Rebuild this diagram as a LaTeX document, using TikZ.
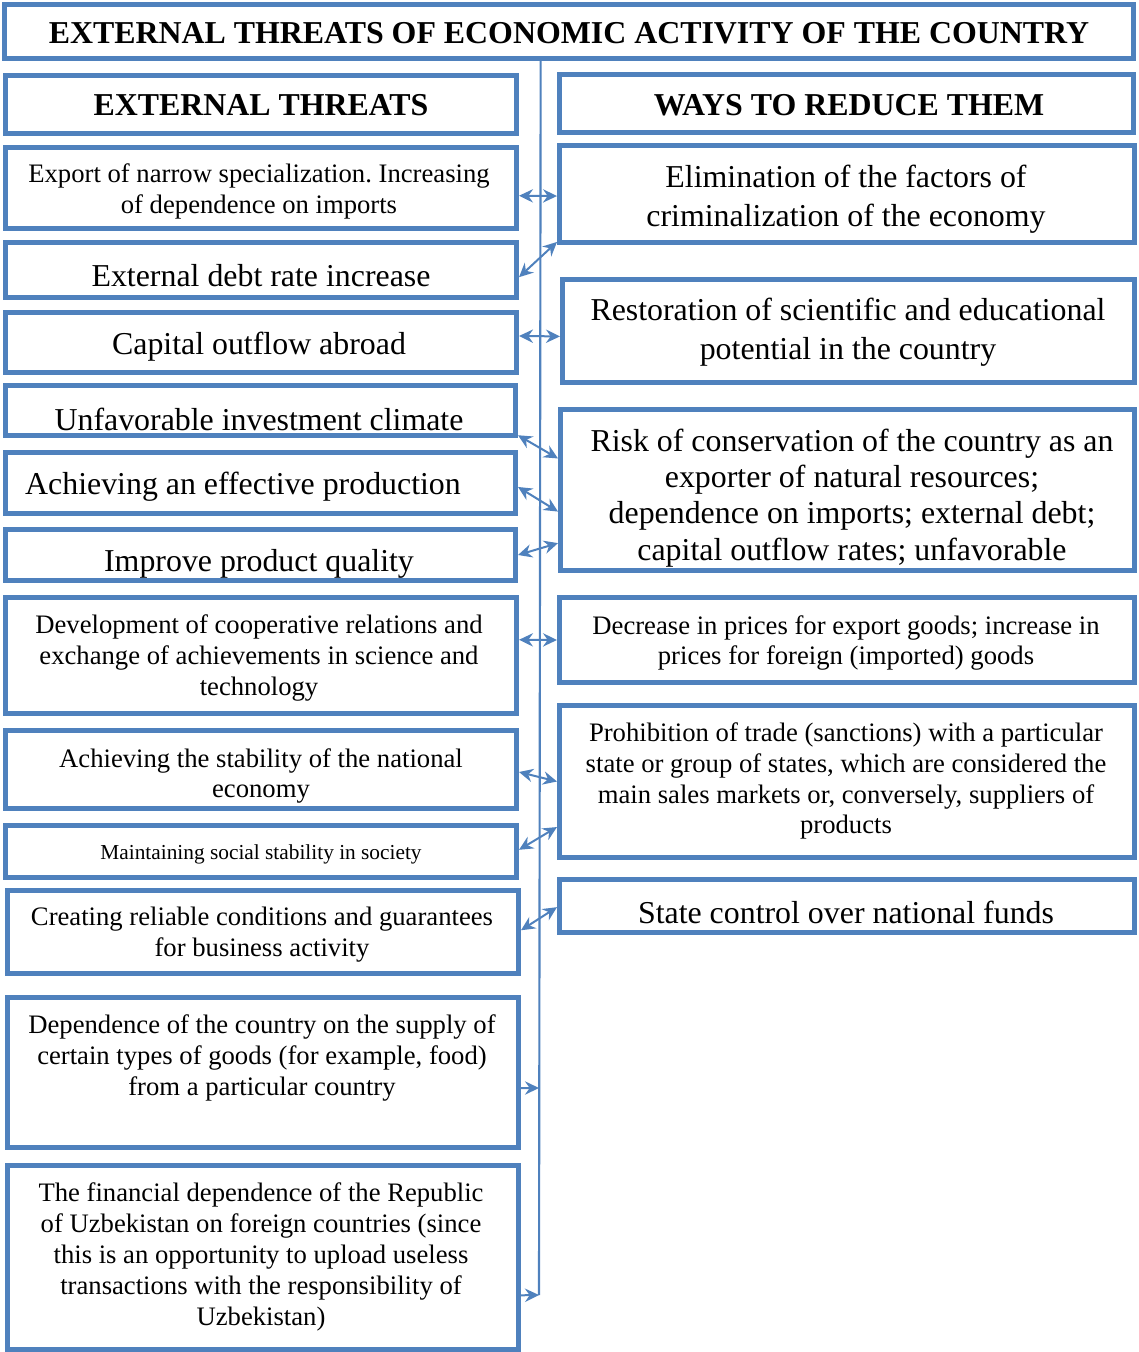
\documentclass[tikz,border=0pt]{standalone}
\usepackage{fontspec}
\setmainfont{Liberation Serif}
\usepackage{tikz}
\usetikzlibrary{calc, fit, arrows.meta}
\frenchspacing

\definecolor{boxblue}{HTML}{4F81BD}

\tikzset{
  box/.style={draw=boxblue, line width=3.75pt, inner sep=0pt},
  largetext/.style={font=\fontsize{23.9pt}{29.3pt}\selectfont, align=center, inner sep=0pt, yshift=-2.2pt},
  midtext/.style={font=\fontsize{20pt}{23.2pt}\selectfont, align=center, inner sep=0pt, yshift=-1.5pt},
  smalltext/.style={font=\fontsize{16pt}{19pt}\selectfont, align=center, inner sep=0pt, yshift=-1.5pt},
  headtext/.style={font=\fontsize{23.9pt}{29.3pt}\selectfont\bfseries, align=center, inner sep=0pt},
  link/.style={draw=boxblue, line width=1.5pt,
    {Stealth[length=10.5pt,width=10pt,inset=3.5pt]}-{Stealth[length=10.5pt,width=10pt,inset=3.5pt]}},
  feed/.style={draw=boxblue, line width=1.5pt, -{Stealth[length=10.5pt,width=10pt,inset=3.5pt]}},
  spine/.style={draw=boxblue, line width=1.6pt}
}

\begin{document}
\begin{tikzpicture}[x=0.75pt, y=-0.75pt]
\useasboundingbox (0,0) rectangle (1138,1352);
					%%
% frames
\foreach \n/\xa/\ya/\xb/\yb in {
  title/4.5/4.5/1133.5/58.5,
  hl/5.5/75.5/516.5/133.5, hr/559.5/74.5/1133.5/132.5,
  l1/5.5/147.5/516.5/228.5, l2/5.5/242.5/516.5/297.5,
  l3/5.5/312.5/516.5/372.5, l4/5.5/385.5/515.5/435.5,
  l5/5.5/452.5/515.5/513.5, l6/5.5/529.5/515.5/580.5,
  l7/5.5/597.5/516.5/713.5, l8/5.5/730.5/516.5/808.5,
  l9/5.5/825.5/516.5/877.5, l10/7.5/890.5/518.5/973.5,
  l11/7.5/997.5/518.5/1147.5, l12/7.5/1165.5/518.5/1349.5,
  r1/559.5/145.5/1134.5/242.5, r2/562.5/279.5/1134.5/382.5,
  r3/560.5/409.5/1134.5/570.5, r4/559.5/597.5/1134.5/682.5,
  r5/559.5/705.5/1134.5/857.5, r6/559.5/879.5/1134.5/932.5}
\node[box, fit={(\xa,\ya) (\xb,\yb)}] (\n) {};

% texts
\node[headtext] (titlet) at (569,33) {EXTERNAL THREATS OF ECONOMIC ACTIVITY OF THE COUNTRY};
\node[headtext] (hlt) at (261,105) {EXTERNAL THREATS};
\node[headtext] (hrt) at (849,105) {WAYS TO REDUCE THEM};

\node[midtext] (l1t) at (259,189) {Export of narrow specialization. Increasing\\of dependence on imports};
\node[largetext] (l2t) at (261,273) {External debt rate increase};
\node[largetext] (l3t) at (259,344) {Capital outflow abroad};
\node[largetext] (l4t) at (259,416) {Unfavorable investment climate};
\node[largetext] (l5t) at (243,484) {Achieving an effective production};
\node[largetext] (l6t) at (259,561) {Improve product quality};
\node[midtext] (l7t) at (259,656) {Development of cooperative relations and\\exchange of achievements in science and\\technology};
\node[midtext] (l8t) at (261,774) {Achieving the stability of the national\\economy};
\node[smalltext] (l9t) at (261,852) {Maintaining social stability in society};
\node[midtext] (l10t) at (262,933) {Creating reliable conditions and guarantees\\for business activity};
\node[midtext] (l11t) at (262,1056) {Dependence of the country on the supply of\\certain types of goods (for example, food)\\from a particular country};
\node[midtext] (l12t) at (261,1255) {The financial dependence of the Republic\\of Uzbekistan on foreign countries (since\\this is an opportunity to upload useless\\transactions with the responsibility of\\Uzbekistan)};

\node[largetext] (r1t) at (846,196) {Elimination of the factors of\\criminalization of the economy};
\node[largetext] (r2t) at (848,329) {Restoration of scientific and educational\\potential in the country};
\node[largetext, font=\fontsize{23.9pt}{27.2pt}\selectfont] (r3t) at (852,495) {Risk of conservation of the country as an\\exporter of natural resources;\\dependence on imports; external debt;\\capital outflow rates; unfavorable};
\node[midtext] (r4t) at (846,641) {Decrease in prices for export goods; increase in\\prices for foreign (imported) goods};
\node[midtext] (r5t) at (846,779) {Prohibition of trade (sanctions) with a particular\\state or group of states, which are considered the\\main sales markets or, conversely, suppliers of\\products};
\node[largetext] (r6t) at (846,909) {State control over national funds};

% spine between the columns
\coordinate (sp1) at ($(title.south west)!.475!(title.south east)$);
\coordinate (sp2) at (539,1295);
\coordinate (sp3) at (539,1088);
\draw[spine] (sp1) -- (sp2);

% links
\draw[link] ($(l1.north east)!.59!(l1.south east)$) -- ($(r1.north west)!.52!(r1.south west)$);
\draw[link] ($(l2.north east)!.62!(l2.south east)$) -- ($(r1.north west)!.97!(r1.south west)$);
\draw[link] ($(l3.north east)!.4!(l3.south east)$) -- ($(r2.north west)!.55!(r2.south west)$);
\draw[link] ($(l4.north east)!.95!(l4.south east)$) -- ($(r3.north west)!.31!(r3.south west)$);
\draw[link] ($(l5.north east)!.56!(l5.south east)$) -- ($(r3.north west)!.63!(r3.south west)$);
\draw[link] ($(l6.north east)!.5!(l6.south east)$) -- ($(r3.north west)!.82!(r3.south west)$);
\draw[link] ($(l7.north east)!.37!(l7.south east)$) -- ($(r4.north west)!.5!(r4.south west)$);
\draw[link] ($(l8.north east)!.53!(l8.south east)$) -- ($(r5.north west)!.5!(r5.south west)$);
\draw[link] ($(l9.north east)!.47!(l9.south east)$) -- ($(r5.north west)!.79!(r5.south west)$);
\draw[link] ($(l10.north east)!.48!(l10.south east)$) -- ($(r6.north west)!.52!(r6.south west)$);

\draw[feed] ($(l11.north east)!.6!(l11.south east)$) -- (sp3);
\draw[feed] ($(l12.north east)!.7!(l12.south east)$) -- (sp2);
				\end{tikzpicture}
\end{document}
